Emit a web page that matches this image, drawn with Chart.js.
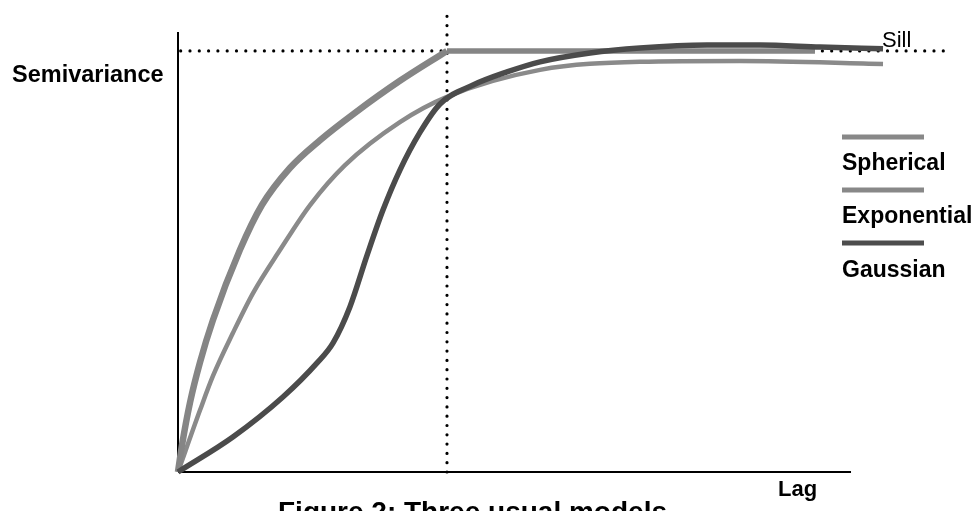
<!DOCTYPE html>
<html>
<head>
<meta charset="utf-8">
<script src="https://cdn.jsdelivr.net/npm/chart.js@4.4.1/dist/chart.umd.min.js"></script>
<style>
  html, body { margin: 0; padding: 0; background: #ffffff; }
  #wrap { width: 978px; height: 511px; position: relative; }
</style>
</head>
<body>
<div id="wrap"><canvas id="chart" width="978" height="511"></canvas></div>
<script>
// Lag is given in percent of the range; semivariance as a fraction of the sill.
const sphericalLag   = [0, 1.5, 4.5, 8.2, 13.0, 23.0, 31.2, 41.6, 52.8, 65.8, 82.5, 100];
const sphericalGamma = [0, 0.064, 0.166, 0.261, 0.361, 0.527, 0.634, 0.722, 0.788, 0.853, 0.929, 1.0];
// Beyond the range the spherical model stays on the sill
const sphericalPlateauLag   = [100, 236.8];
const sphericalPlateauGamma = [1.0, 1.0];

const exponentialLag   = [0, 8.2, 13.0, 20.4, 27.9, 37.9, 49.1, 62.1, 82.5, 100, 134.6, 171.7, 208.9, 262.1];
const exponentialGamma = [0, 0.147, 0.228, 0.330, 0.425, 0.527, 0.634, 0.729, 0.831, 0.891, 0.955, 0.974, 0.976, 0.969];

const gaussianLag   = [0, 20.4, 39.0, 51.7, 57.6, 63.9, 70.3, 76.2, 82.5, 90.0, 97.4, 109.7, 122.3, 134.6, 153.2, 171.7, 196.7, 216.4, 238.7, 262.1];
const gaussianGamma = [0, 0.083, 0.178, 0.259, 0.306, 0.392, 0.515, 0.622, 0.717, 0.807, 0.874, 0.919, 0.950, 0.974, 0.995, 1.007, 1.014, 1.014, 1.009, 1.005];

// Reference lines: the sill level and the range
const sillLevel = 1.0;
const rangeLag = 100;

// Axis extents
const lagAxisEnd = 250.2;
const gammaAxisEnd = 1.045;
const sillLineStart = 1;
const sillLineEnd = 285.5;
const rangeLineTop = 1.09;

// Labels
const modelNames = ['Spherical', 'Exponential', 'Gaussian'];
const yLabel = 'Semivariance';
const xLabel = 'Lag';
const sillLabel = 'Sill';
const figureCaption = 'Figure 2: Three usual models';

const pts = (xs, ys) => xs.map((x, i) => ({ x: x, y: ys[i] }));

const modelColors = ['#858585', '#8a8a8a', '#4b4b4b'];

const curveStyle = {
  pointRadius: 0,
  fill: false,
  cubicInterpolationMode: 'monotone',
  borderCapStyle: 'butt',
  borderJoinStyle: 'round',
  clip: false
};

const dotStyle = {
  pointRadius: 0,
  fill: false,
  borderColor: '#000000',
  borderWidth: 3.2,
  borderDash: [0, 9.3],
  borderCapStyle: 'round',
  clip: false
};

const axisStyle = {
  pointRadius: 0,
  fill: false,
  borderColor: '#000000',
  borderWidth: 2,
  clip: false
};

// Legend swatches above names, axis titles, sill label and caption
const annotations = {
  id: 'annotations',
  afterDatasetsDraw(chart) {
    const ctx = chart.ctx;
    ctx.save();
    ctx.fillStyle = '#000000';
    ctx.textBaseline = 'alphabetic';
    ctx.textAlign = 'left';

    ctx.font = 'bold 23.5px "Liberation Sans", Arial, sans-serif';
    ctx.fillText(yLabel, 12, 82);

    ctx.font = '22px "Liberation Sans", Arial, sans-serif';
    ctx.fillText(sillLabel, 882, 47);

    ctx.font = 'bold 22px "Liberation Sans", Arial, sans-serif';
    ctx.fillText(xLabel, 778, 496);

    ctx.font = 'bold 28px "Liberation Sans", Arial, sans-serif';
    ctx.fillText(figureCaption, 278, 521);

    const swatchY = [137, 190, 243];
    const textY = [170, 223, 277];
    ctx.font = 'bold 23px "Liberation Sans", Arial, sans-serif';
    modelNames.forEach((name, i) => {
      ctx.strokeStyle = i === 2 ? '#4d4d4d' : '#888888';
      ctx.lineWidth = 5;
      ctx.beginPath();
      ctx.moveTo(842, swatchY[i]);
      ctx.lineTo(924, swatchY[i]);
      ctx.stroke();
      ctx.fillText(name, 842, textY[i]);
    });
    ctx.restore();
  }
};

new Chart(document.getElementById('chart'), {
  type: 'line',
  data: {
    datasets: [
      Object.assign({ label: modelNames[2], data: pts(gaussianLag, gaussianGamma), borderColor: modelColors[2], borderWidth: 5.5, order: 0 }, curveStyle),
      Object.assign({ label: modelNames[0], data: pts(sphericalLag, sphericalGamma), borderColor: modelColors[0], borderWidth: 6.5, order: 1 }, curveStyle),
      Object.assign({ label: modelNames[0] + ' plateau', data: pts(sphericalPlateauLag, sphericalPlateauGamma), borderColor: modelColors[0], borderWidth: 5.5, order: 1 }, curveStyle),
      Object.assign({ label: modelNames[1], data: pts(exponentialLag, exponentialGamma), borderColor: modelColors[1], borderWidth: 4.5, order: 2 }, curveStyle),
      Object.assign({ label: 'sill', data: [{ x: sillLineStart, y: sillLevel }, { x: sillLineEnd, y: sillLevel }], order: 3 }, dotStyle),
      Object.assign({ label: 'range', data: [{ x: rangeLag, y: 0 }, { x: rangeLag, y: rangeLineTop }], order: 3 }, dotStyle),
      Object.assign({ label: 'x axis', data: [{ x: 0, y: 0 }, { x: lagAxisEnd, y: 0 }], order: 4 }, axisStyle),
      Object.assign({ label: 'y axis', data: [{ x: 0, y: 0 }, { x: 0, y: gammaAxisEnd }], order: 4 }, axisStyle)
    ]
  },
  options: {
    responsive: false,
    animation: false,
    devicePixelRatio: 1,
    layout: { padding: { left: 178, right: 28, top: 13, bottom: 39 } },
    scales: {
      x: { type: 'linear', min: 0, max: 287, display: false },
      y: { type: 'linear', min: 0, max: 1.09, display: false }
    },
    plugins: {
      legend: { display: false },
      tooltip: { enabled: false }
    }
  },
  plugins: [annotations]
});
</script>
</body>
</html>
